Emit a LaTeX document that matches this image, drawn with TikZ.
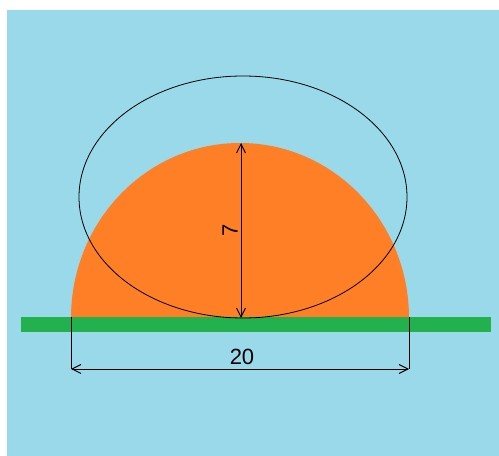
\documentclass[tikz,border=0pt]{standalone}
\usepackage{fontspec}
\setmainfont{Liberation Sans}
\usetikzlibrary{arrows.meta}
\definecolor{sky}{RGB}{153,217,234}
\definecolor{drop}{RGB}{255,127,39}
\definecolor{ground}{RGB}{34,177,76}
\tikzset{
  dim/.style={{Straight Barb[length=9pt,width=9pt]}-{Straight Barb[length=9pt,width=9pt]},line width=0.9pt,draw=black},
  ext/.style={line width=0.9pt,draw=black},
  num/.style={font=\fontsize{22}{24}\selectfont,inner sep=0pt}
}
\begin{document}
\begin{tikzpicture}[x=1pt,y=1pt]
  \useasboundingbox (0,0) rectangle (499,456);
  \fill[sky] (7,0) rectangle (499,446);
  % droplet and surface
  \fill[drop] (71,138) arc[start angle=180,end angle=0,x radius=169,y radius=175] -- cycle;
  \fill[ground] (21,124) rectangle (491,139);
  \draw[line width=0.8pt] (243,259) ellipse[x radius=164,y radius=121];

  \coordinate (top) at (241,313);
  \coordinate (foot) at (241,138);
  \coordinate (baseL) at (71,139);
  \coordinate (baseR) at (409,139);
  \coordinate (dimL) at (71,87);
  \coordinate (dimR) at (409,87);
  \draw[ext] (baseL) -- (dimL);
  \draw[ext] (baseR) -- (dimR);
  \draw[dim] (dimL) -- (dimR);
  \draw[dim] (top) -- (foot);

  \node[num] (width) at (242,99) {20};
  \node[num,rotate=90] (height) at (230,226) {7};
\end{tikzpicture}
\end{document}
